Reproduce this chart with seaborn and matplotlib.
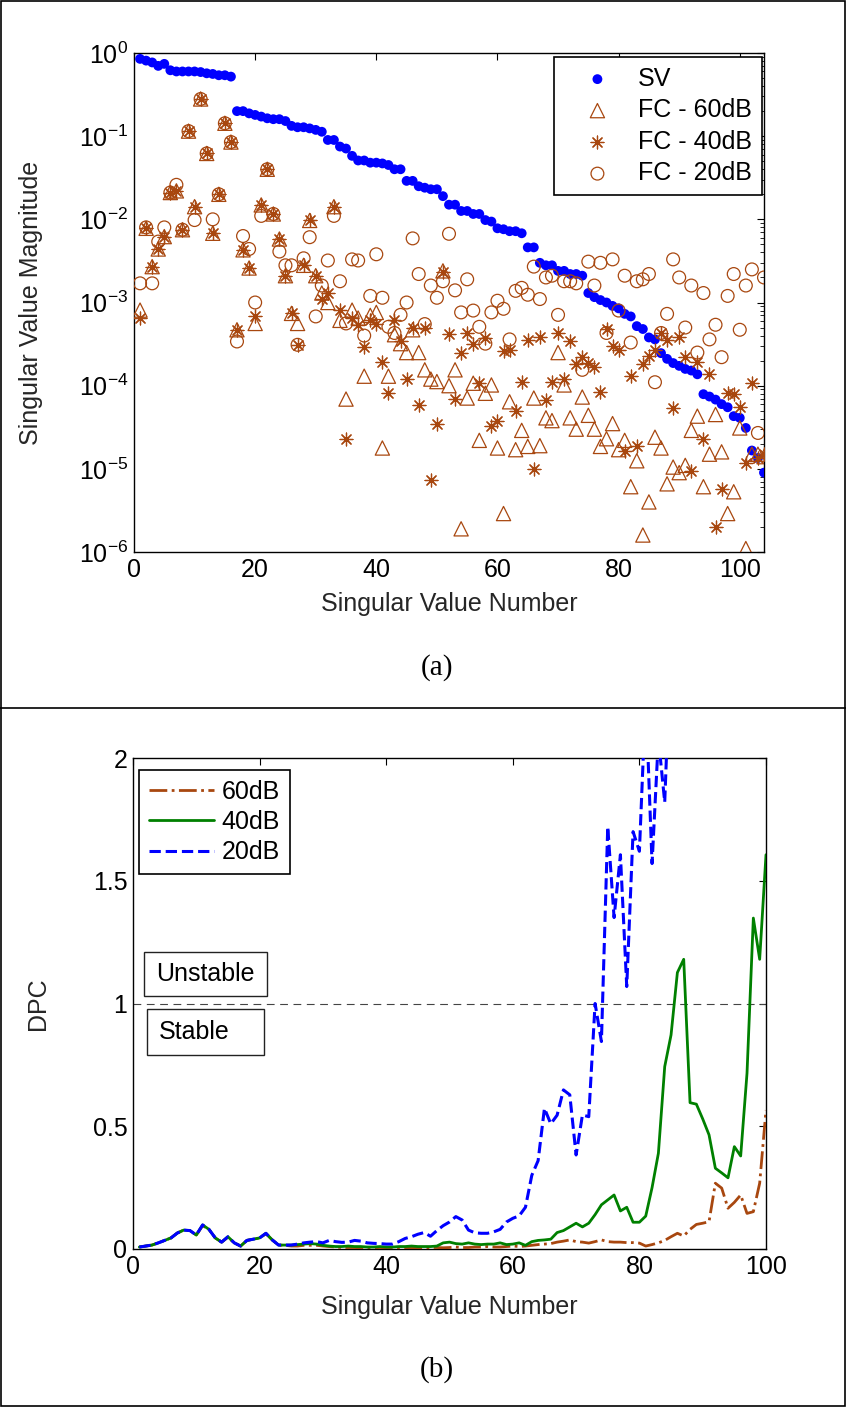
import numpy as np
import pandas as pd
import matplotlib
matplotlib.use("Agg")
import matplotlib.pyplot as plt
import seaborn as sns
from matplotlib.patches import Rectangle
from matplotlib.ticker import FixedLocator, FuncFormatter, LogLocator, NullFormatter, NullLocator

# ---------------- data: panel (a) ----------------
sv = [0.85, 0.81, 0.77, 0.70, 0.74, 0.62, 0.60, 0.60, 0.60, 0.60, 0.59, 0.57, 0.56, 0.54, 0.54, 0.52,
      0.20, 0.20, 0.188, 0.18, 0.172, 0.164, 0.16, 0.16, 0.152, 0.133, 0.128, 0.128, 0.124, 0.119,
      0.113, 0.090, 0.090, 0.075, 0.071, 0.058, 0.051,
      0.051, 0.048, 0.048, 0.047, 0.045, 0.040, 0.040, 0.029, 0.029, 0.025, 0.024, 0.023, 0.023,
      0.019, 0.015, 0.015, 0.0126, 0.0126, 0.0116, 0.0116, 0.0098, 0.0094, 0.0078, 0.0076, 0.0072,
      0.0072, 0.0068, 0.0046, 0.0046, 0.0030, 0.0028, 0.0028, 0.0024, 0.0024, 0.0022, 0.0022, 0.0021,
      0.0013, 0.00116, 0.00107, 0.0010, 0.00091, 0.00085, 0.00073, 0.00068, 0.00052, 0.00048,
      0.00038, 0.00036, 0.000246, 0.00021, 0.000187, 0.000173, 0.000159, 0.000152, 0.000137, 7.9e-5,
      7.4e-5, 6.8e-5, 6.0e-5, 5.5e-5, 4.3e-5, 4.1e-5, 3.1e-5, 1.66e-5, 1.35e-5, 9e-6]

fc_60db = [8.1e-4, 0.0078, 0.0027, 0.0044, 0.0062, 0.021, 0.022, 0.0075, 0.115, 0.0142,
           0.28, 0.062, 0.0068, 0.020, 0.143, 0.085, 4.7e-4, 0.0043, 0.0026, 5.6e-4,
           0.0149, 0.040, 0.0116, 0.0058, 0.0021, 7.4e-4, 5.6e-4, 0.0028, 0.0097, 0.0021,
           0.0013, 0.0010, 0.0142, 6.1e-4, 6.9e-5, 8.1e-4, 6.5e-4, 1.3e-4, 7.0e-4, 7.6e-4,
           1.78e-5, 1.3e-4, 4.1e-4, 3.2e-4, 2.5e-4, 4.7e-4, 2.5e-4, 1.55e-4, 1.2e-4, 1.12e-4,
           0.0024, 1.0e-4, 1.55e-4, 1.9e-6, 7.1e-5, 1.07e-4, 2.2e-5, 8.1e-5, 1.02e-4, 1.78e-5,
           2.9e-6, 6.4e-5, 1.7e-5, 2.9e-5, 1.86e-5, 7.1e-5, 1.9e-5, 4.1e-5, 3.8e-5, 2.5e-4,
           1.02e-4, 4.1e-5, 3.0e-5, 7.3e-5, 4.4e-5, 3.0e-5, 1.86e-5, 2.3e-5, 3.5e-5, 1.7e-5,
           2.2e-5, 6.1e-6, 1.25e-5, 1.6e-6, 4.0e-6, 2.4e-5, 1.78e-5, 6.6e-6, 1.05e-5, 9.0e-6,
           1.1e-5, 2.9e-5, 4.3e-5, 6.1e-6, 1.5e-5, 4.5e-5, 1.6e-5, 2.9e-6, 5.3e-6, 3.1e-5,
           1.1e-6, 1.5e-5, 1.5e-5, 1.4e-5]

fc_40db = [6.5e-4, 0.0078, 0.0027, 0.0044, 0.0062, 0.021, 0.022, 0.0075, 0.115, 0.0142,
           0.28, 0.062, 0.0068, 0.020, 0.143, 0.085, 4.7e-4, 0.0043, 0.0026, 6.8e-4,
           0.0149, 0.040, 0.0116, 0.0058, 0.0021, 7.4e-4, 3.1e-4, 0.0028, 0.0097, 0.0021,
           0.0011, 0.0013, 0.0142, 8.1e-4, 2.3e-5, 6.5e-4, 5.3e-4, 2.95e-4, 6.2e-4, 5.5e-4,
           1.95e-4, 8.1e-5, 6.2e-4, 3.4e-4, 1.2e-4, 5.0e-4, 5.9e-5, 5.0e-4, 7.4e-6, 3.5e-5,
           0.0023, 4.2e-4, 6.9e-5, 2.5e-4, 4.3e-4, 3.2e-4, 1.07e-4, 3.7e-4, 3.3e-5, 3.8e-5,
           2.6e-4, 2.7e-4, 5.0e-5, 1.1e-4, 3.5e-4, 1.0e-5, 3.8e-4, 6.8e-5, 1.1e-4, 4.3e-4,
           1.2e-4, 3.4e-4, 1.8e-4, 2.2e-4, 1.85e-4, 1.7e-4, 8.3e-5, 4.8e-4, 3.0e-4, 2.7e-4,
           1.66e-5, 1.3e-4, 1.86e-5, 1.8e-4, 2.3e-4, 2.7e-4, 4.3e-4, 3.5e-4, 5.4e-5, 3.8e-4,
           2.2e-4, 9.3e-6, 1.9e-4, 2.3e-5, 1.4e-4, 2.0e-6, 5.7e-6, 8.1e-5, 7.9e-5, 5.6e-5,
           1.17e-5, 1.07e-4, 1.35e-5, 1.5e-5]

fc_20db = [0.0017, 0.0080, 0.0017, 0.0054, 0.0080, 0.021, 0.026, 0.0075, 0.115, 0.0098,
           0.28, 0.062, 0.010, 0.020, 0.143, 0.085, 3.4e-4, 0.0063, 0.0044, 0.0010,
           0.011, 0.040, 0.0116, 0.0041, 0.0028, 0.0028, 3.1e-4, 0.0034, 0.0061, 6.8e-4,
           0.0016, 0.0032, 0.011, 0.0018, 5.6e-4, 0.0033, 0.0032, 4.0e-4, 0.0012, 0.0038,
           0.00114, 5.1e-4, 4.3e-4, 7.1e-4, 0.0010, 0.0059, 0.0022, 5.5e-4, 0.0016, 0.00114,
           0.0018, 0.0067, 0.0014, 7.6e-4, 0.0019, 8.0e-4, 5.1e-4, 3.2e-4, 7.6e-4, 0.00105,
           8.4e-4, 3.6e-4, 0.00138, 0.0015, 0.00124, 0.0027, 0.0011, 0.0020, 0.0021, 7.1e-4,
           0.0018, 0.0018, 0.0017, 1.55e-4, 0.0031, 0.0016, 0.0030, 4.3e-4, 0.0033, 8.0e-4,
           0.0021, 3.3e-4, 0.0018, 0.0019, 0.0022, 1.1e-4, 4.3e-4, 7.3e-4, 0.0033, 0.0020,
           5.0e-4, 0.0016, 2.5e-4, 0.0013, 3.6e-4, 5.4e-4, 2.2e-4, 0.0012, 0.0022, 4.7e-4,
           0.0016, 0.0025, 2.7e-5, 0.0020]

# ---------------- data: panel (b) ----------------
dpc_60db = [0.008, 0.012, 0.016, 0.025, 0.035, 0.045, 0.065, 0.077, 0.075, 0.057,
            0.095, 0.080, 0.045, 0.028, 0.048, 0.025, 0.012, 0.035, 0.040, 0.045,
            0.062, 0.037, 0.016, 0.015, 0.012, 0.012, 0.015, 0.015, 0.015, 0.012,
            0.010, 0.008, 0.006, 0.006, 0.006, 0.005, 0.005, 0.005, 0.006, 0.005,
            0.004, 0.004, 0.004, 0.005, 0.005, 0.005, 0.006, 0.006, 0.005, 0.006,
            0.008, 0.006, 0.006, 0.008, 0.008, 0.010, 0.008, 0.008, 0.010, 0.012,
            0.010, 0.012, 0.015, 0.018, 0.020, 0.022, 0.028, 0.032, 0.037, 0.030,
            0.028, 0.024, 0.030, 0.037, 0.030, 0.028, 0.028, 0.026, 0.026, 0.024,
            0.012, 0.018, 0.025, 0.035, 0.050, 0.064, 0.053, 0.080, 0.100, 0.105,
            0.111, 0.268, 0.248, 0.166, 0.190, 0.220, 0.145, 0.152, 0.268, 0.566]

dpc_40db = [0.008, 0.012, 0.016, 0.025, 0.035, 0.045, 0.065, 0.077, 0.075, 0.057,
            0.098, 0.080, 0.045, 0.028, 0.050, 0.025, 0.012, 0.035, 0.040, 0.045,
            0.064, 0.037, 0.016, 0.016, 0.016, 0.018, 0.020, 0.022, 0.020, 0.015,
            0.012, 0.010, 0.010, 0.012, 0.010, 0.010, 0.008, 0.008, 0.010, 0.008,
            0.008, 0.010, 0.010, 0.012, 0.010, 0.010, 0.010, 0.012, 0.025, 0.028,
            0.022, 0.020, 0.025, 0.020, 0.018, 0.020, 0.020, 0.025, 0.018, 0.020,
            0.025, 0.015, 0.030, 0.035, 0.037, 0.040, 0.067, 0.075, 0.090, 0.105,
            0.090, 0.105, 0.140, 0.180, 0.200, 0.220, 0.155, 0.170, 0.109, 0.109,
            0.134, 0.250, 0.390, 0.743, 0.872, 1.126, 1.180, 0.596, 0.590, 0.530,
            0.465, 0.329, 0.310, 0.290, 0.417, 0.379, 0.716, 1.348, 1.180, 1.606]

dpc_20db = [0.008, 0.012, 0.016, 0.025, 0.035, 0.045, 0.065, 0.077, 0.075, 0.057,
            0.098, 0.080, 0.045, 0.028, 0.050, 0.025, 0.012, 0.035, 0.040, 0.045,
            0.064, 0.037, 0.016, 0.016, 0.016, 0.020, 0.025, 0.028, 0.030, 0.025,
            0.035, 0.030, 0.027, 0.028, 0.035, 0.032, 0.025, 0.023, 0.022, 0.020,
            0.020, 0.030, 0.043, 0.050, 0.060, 0.067, 0.052, 0.075, 0.095, 0.110,
            0.132, 0.118, 0.077, 0.066, 0.064, 0.064, 0.070, 0.080, 0.110, 0.125,
            0.135, 0.170, 0.300, 0.360, 0.573, 0.510, 0.545, 0.648, 0.628, 0.383,
            0.546, 0.539, 1.000, 0.845, 1.720, 1.350, 1.606, 1.069, 1.700, 1.620,
            2.250, 1.570, 2.080, 1.820, 2.500]

# ---------------- style ----------------
sns.set_style("white")
plt.rcParams.update({
    "font.family": ["Liberation Sans", "DejaVu Sans"],
    "mathtext.fontset": "custom",
    "mathtext.rm": "Liberation Sans",
    "mathtext.it": "Liberation Sans:italic",
    "mathtext.bf": "Liberation Sans:bold",
    "axes.edgecolor": "black",
    "axes.linewidth": 1.0,
    "xtick.color": "black",
    "ytick.color": "black",
    "text.color": "black",
})

BROWN = "#a8470f"
FS = 18

fig = plt.figure(figsize=(8.46, 14.07), dpi=100)
W, H = 846.0, 1407.0

# panel frames
fig.add_artist(Rectangle((0.6 / W, 0.6 / H), 1 - 1.2 / W, 1 - 1.2 / H, transform=fig.transFigure,
                         fill=False, ec="black", lw=1.2))
fig.add_artist(plt.Line2D([0, 1], [1 - 708 / H, 1 - 708 / H], transform=fig.transFigure,
                          color="black", lw=1.2))

# ---------------- panel (a) ----------------
ax1 = fig.add_axes([134 / W, 1 - 552 / H, 630 / W, 499 / H])
df_a = pd.DataFrame({
    "n_sv": np.arange(1, len(sv) + 1), "sv": sv,
})
sns.scatterplot(data=df_a, x="n_sv", y="sv", color="#0000ff", s=50, linewidth=0,
                edgecolor="none", ax=ax1, label="SV", zorder=3)
sns.scatterplot(x=np.arange(1, len(fc_60db) + 1), y=fc_60db, marker="^", s=105,
                facecolors="none", edgecolor=BROWN, linewidth=0.9, ax=ax1,
                label="FC - 60dB", zorder=4)
sns.scatterplot(x=np.arange(1, len(fc_40db) + 1), y=fc_40db, marker=(8, 2, 0), s=85,
                color=BROWN, linewidth=0.9, ax=ax1, label="FC - 40dB", zorder=4)
sns.scatterplot(x=np.arange(1, len(fc_20db) + 1), y=fc_20db, marker="o", s=85,
                facecolors="none", edgecolor=BROWN, linewidth=0.9, ax=ax1,
                label="FC - 20dB", zorder=4)

ax1.set_yscale("log")
ax1.set_xlim(0, 104)
ax1.set_ylim(1e-6, 1)
ax1.xaxis.set_major_locator(FixedLocator([0, 20, 40, 60, 80, 100]))
ax1.xaxis.set_minor_locator(NullLocator())
ax1.yaxis.set_major_locator(LogLocator(base=10, numticks=10))
ax1.yaxis.set_minor_locator(LogLocator(base=10, subs=np.arange(2, 10), numticks=20))
ax1.yaxis.set_minor_formatter(NullFormatter())
ax1.yaxis.set_major_formatter(FuncFormatter(lambda v, p: r"$10^{%d}$" % int(round(np.log10(v)))))
ax1.tick_params(which="both", direction="in", top=True, right=True, labelsize=FS, pad=4)
ax1.tick_params(which="major", length=5, width=0.8)
ax1.tick_params(which="minor", length=3, width=0.6)
ax1.set_xlabel("Singular Value Number", fontsize=FS)
ax1.set_ylabel("Singular Value Magnitude", fontsize=FS)
ax1.xaxis.set_label_coords(0.5, -0.08)
ax1.xaxis.label.set_va("top")
ax1.yaxis.set_label_coords(-0.145, 0.5)
for s in ax1.spines.values():
    s.set_visible(True)
    s.set_linewidth(1.0)

leg1 = ax1.legend(loc="upper right", bbox_to_anchor=(0.9963, 0.9926), borderaxespad=0,
                  fontsize=FS, frameon=True, fancybox=False, edgecolor="black",
                  framealpha=1, scatterpoints=1, borderpad=0.4, handlelength=2.7,
                  handletextpad=0.26, labelspacing=0.3)
leg1.get_frame().set_linewidth(1.2)

fig.text(437 / W, 1 - 668 / H, "(a)", ha="center", va="center",
         family=["Liberation Serif", "DejaVu Serif"], fontsize=21)

# ---------------- panel (b) ----------------
ax2 = fig.add_axes([133 / W, 1 - 1249 / H, 633 / W, 491 / H])
ax2.axhline(1.0, color="#444444", lw=0.8, ls=(0, (7, 5)), zorder=1)
sns.lineplot(x=np.arange(1, len(dpc_60db) + 1), y=dpc_60db, color=BROWN, lw=2.0,
             linestyle="-.", ax=ax2, label="60dB", zorder=3)
sns.lineplot(x=np.arange(1, len(dpc_40db) + 1), y=dpc_40db, color="#008000", lw=2.0,
             linestyle="-", ax=ax2, label="40dB", zorder=3)
sns.lineplot(x=np.arange(1, len(dpc_20db) + 1), y=dpc_20db, color="#0000ff", lw=2.2,
             linestyle="--", ax=ax2, label="20dB", zorder=3)
ax2.set_xlim(0, 100)
ax2.set_ylim(0, 2)
ax2.xaxis.set_major_locator(FixedLocator([0, 20, 40, 60, 80, 100]))
ax2.yaxis.set_major_locator(FixedLocator([0, 0.5, 1, 1.5, 2]))
ax2.yaxis.set_major_formatter(FuncFormatter(lambda v, p: "%g" % v))
ax2.tick_params(which="both", direction="in", top=True, right=True, labelsize=FS, pad=4,
                length=5, width=0.8)
ax2.set_xlabel("Singular Value Number", fontsize=FS)
ax2.set_ylabel("DPC", fontsize=FS)
ax2.xaxis.set_label_coords(0.5, -0.093)
ax2.xaxis.label.set_va("top")
ax2.yaxis.set_label_coords(-0.131, 0.5)
for s in ax2.spines.values():
    s.set_visible(True)
    s.set_linewidth(1.0)

leg2 = ax2.legend(loc="upper left", bbox_to_anchor=(0.01, 0.9756), borderaxespad=0,
                  fontsize=FS, frameon=True, fancybox=False, edgecolor="black",
                  framealpha=1, borderpad=0.4, handlelength=2.6, handletextpad=0.29,
                  labelspacing=0.25)
leg2.get_frame().set_linewidth(1.2)

# Stable / Unstable annotation boxes
ax2.add_patch(Rectangle((0.0179, 0.5153), 0.2122 - 0.0179, 0.6055 - 0.5153, transform=ax2.transAxes,
                        fill=True, fc="white", ec="#222222", lw=1.0, zorder=5))
ax2.add_patch(Rectangle((0.0226, 0.3945), 0.2074 - 0.0226, 0.4894 - 0.3945, transform=ax2.transAxes,
                        fill=True, fc="white", ec="#222222", lw=1.0, zorder=5))
ax2.text(0.0363, 0.5605, "Unstable", transform=ax2.transAxes, ha="left", va="center",
         fontsize=FS, zorder=6)
ax2.text(0.0415, 0.442, "Stable", transform=ax2.transAxes, ha="left", va="center",
         fontsize=FS, zorder=6)

fig.text(437 / W, 1 - 1370 / H, "(b)", ha="center", va="center",
         family=["Liberation Serif", "DejaVu Serif"], fontsize=21)

fig.savefig("out.png", dpi=100)
